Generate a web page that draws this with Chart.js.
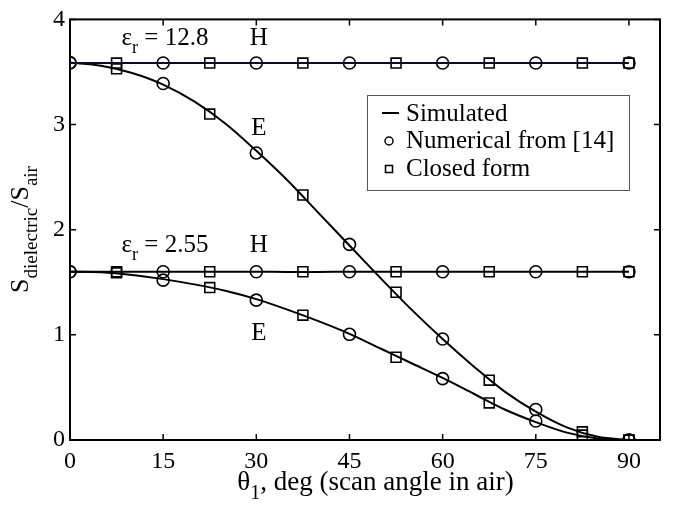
<!DOCTYPE html>
<html>
<head>
<meta charset="utf-8">
<script src="https://cdn.jsdelivr.net/npm/chart.js@4.4.0/dist/chart.umd.min.js"></script>
<style>
  html, body { margin: 0; padding: 0; background: #fff; }
  #wrap { width: 678px; height: 506px; }
</style>
</head>
<body>
<div id="wrap"><canvas id="chart"></canvas></div>
<script>
// Angles (deg)
let simAngles = [0, 5, 10, 15, 20, 25, 30, 35, 40, 45, 50, 55, 60, 65, 70, 75, 80, 85, 90];
let circleAngles = [0, 15, 30, 45, 60, 75, 90];
let squareAngles = [7.5, 22.5, 37.5, 52.5, 67.5, 82.5, 90];

// Simulated curves
let simH128 = [3.585, 3.585, 3.585, 3.585, 3.585, 3.585, 3.585, 3.585, 3.585, 3.585, 3.585, 3.585, 3.585, 3.585, 3.585, 3.585, 3.585, 3.585, 3.585];
let simE128 = [3.59, 3.56, 3.49, 3.38, 3.22, 3.01, 2.75, 2.47, 2.16, 1.85, 1.54, 1.24, 0.96, 0.70, 0.46, 0.27, 0.12, 0.03, 0];
let simH255 = [1.60, 1.60, 1.60, 1.60, 1.60, 1.60, 1.60, 1.598, 1.598, 1.60, 1.60, 1.60, 1.60, 1.60, 1.60, 1.60, 1.60, 1.60, 1.60];
let simE255 = [1.60, 1.595, 1.57, 1.53, 1.48, 1.42, 1.34, 1.24, 1.13, 1.01, 0.87, 0.73, 0.59, 0.44, 0.29, 0.17, 0.07, 0.015, 0];

// Numerical from [14] (circles)
let numH128 = [3.585, 3.585, 3.585, 3.585, 3.585, 3.585, 3.585];
let numE128 = [3.59, 3.39, 2.73, 1.86, 0.96, 0.29, 0];
let numH255 = [1.60, 1.60, 1.60, 1.60, 1.60, 1.60, 1.60];
let numE255 = [1.60, 1.52, 1.33, 1.005, 0.584, 0.181, 0];

// Closed form (squares)
let cfH128 = [3.585, 3.585, 3.585, 3.585, 3.585, 3.585, 3.585];
let cfE128 = [3.53, 3.10, 2.33, 1.405, 0.569, 0.078, 0];
let cfH255 = [1.60, 1.60, 1.60, 1.60, 1.60, 1.60, 1.60];
let cfE255 = [1.59, 1.45, 1.187, 0.787, 0.353, 0.047, 0];

let xTicks = [0, 15, 30, 45, 60, 75, 90];
let yTicks = [0, 1, 2, 3, 4];

const SERIF = '"Liberation Serif", "Times New Roman", serif';

function pts(xs, ys) {
    return xs.map((x, i) => ({ x: x, y: ys[i] }));
}

function simSet(ys, color) {
    return {
        label: "Simulated",
        data: pts(simAngles, ys),
        showLine: true,
        borderColor: color || "#000",
        borderWidth: 2,
        pointRadius: 0,
        cubicInterpolationMode: "monotone",
        fill: false
    };
}

function markSet(label, xs, ys, style, r) {
    return {
        label: label,
        data: pts(xs, ys),
        showLine: false,
        pointStyle: style,
        pointRadius: r,
        pointBorderColor: "#000",
        pointBackgroundColor: "rgba(0,0,0,0)",
        pointBorderWidth: 1.6
    };
}

// draw text with a subscript part, returns total width
function subText(ctx, x, y, main, sub, rest, size, subSize, drop) {
    ctx.font = size + "px " + SERIF;
    ctx.fillText(main, x, y);
    let w = ctx.measureText(main).width;
    ctx.font = subSize + "px " + SERIF;
    ctx.fillText(sub, x + w, y + drop);
    let w2 = ctx.measureText(sub).width;
    ctx.font = size + "px " + SERIF;
    ctx.fillText(rest, x + w + w2, y);
}

function widthOf(ctx, parts) {
    let w = 0;
    parts.forEach(p => {
        ctx.font = p[1] + "px " + SERIF;
        w += ctx.measureText(p[0]).width;
    });
    return w;
}

const decorPlugin = {
    id: "decor",
    afterDatasetsDraw(chart) {
        const ctx = chart.ctx;
        const xs = chart.scales.x, ys = chart.scales.y;
        const a = chart.chartArea;
        ctx.save();
        ctx.fillStyle = "#000";
        ctx.textBaseline = "alphabetic";
        ctx.textAlign = "left";

        // annotations
        subText(ctx, xs.getPixelForValue(8.3), ys.getPixelForValue(3.76), "\u03b5", "r", " = 12.8", 25, 18, 8);
        subText(ctx, xs.getPixelForValue(8.3), ys.getPixelForValue(1.785), "\u03b5", "r", " = 2.55", 25, 18, 8);
        ctx.font = "25px " + SERIF;
        ctx.textAlign = "center";
        ctx.fillText("H", xs.getPixelForValue(30.4), ys.getPixelForValue(3.76));
        ctx.fillText("E", xs.getPixelForValue(30.4), ys.getPixelForValue(2.90));
        ctx.fillText("H", xs.getPixelForValue(30.4), ys.getPixelForValue(1.785));
        ctx.fillText("E", xs.getPixelForValue(30.4), ys.getPixelForValue(0.955));

        // legend box
        const lx = 367, ly = 95, lw = 262, lh = 95;
        ctx.fillStyle = "#fff";
        ctx.fillRect(lx, ly, lw, lh);
        ctx.strokeStyle = "#555";
        ctx.lineWidth = 1;
        ctx.strokeRect(lx + 0.5, ly + 0.5, lw, lh);
        ctx.fillStyle = "#000";
        ctx.strokeStyle = "#000";
        ctx.lineWidth = 2;
        ctx.beginPath();
        ctx.moveTo(382, 113);
        ctx.lineTo(399, 113);
        ctx.stroke();
        ctx.lineWidth = 1.5;
        ctx.beginPath();
        ctx.arc(389, 141, 4, 0, Math.PI * 2);
        ctx.stroke();
        ctx.strokeRect(385.5, 165.5, 7, 7);
        ctx.textAlign = "left";
        ctx.font = "25px " + SERIF;
        ctx.fillText("Simulated", 406, 121);
        ctx.fillText("Numerical from [14]", 406, 148);
        ctx.fillText("Closed form", 406, 176);

        // frame and inward ticks
        ctx.strokeStyle = "#000";
        ctx.lineWidth = 2;
        ctx.strokeRect(a.left, a.top, a.right - a.left, a.bottom - a.top);
        ctx.lineWidth = 1.5;
        ctx.beginPath();
        xTicks.forEach(v => {
            let p = xs.getPixelForValue(v);
            ctx.moveTo(p, a.bottom); ctx.lineTo(p, a.bottom - 6);
            ctx.moveTo(p, a.top); ctx.lineTo(p, a.top + 6);
        });
        yTicks.forEach(v => {
            let p = ys.getPixelForValue(v);
            ctx.moveTo(a.left, p); ctx.lineTo(a.left + 6, p);
            ctx.moveTo(a.right, p); ctx.lineTo(a.right - 6, p);
        });
        ctx.stroke();

        // x axis title
        ctx.textAlign = "left";
        let t1 = "\u03b8", t2 = "1", t3 = ", deg (scan angle in air)";
        let wx = widthOf(ctx, [[t1, 27], [t2, 20], [t3, 27]]);
        subText(ctx, 375.5 - wx / 2, 490, t1, t2, t3, 27, 20, 9);

        // y axis title (rotated)
        ctx.translate(28, 229.5);
        ctx.rotate(-Math.PI / 2);
        let wy = widthOf(ctx, [["S", 26], ["dielectric", 19], ["/S", 26], ["air", 19]]);
        let x0 = -wy / 2;
        ctx.font = "26px " + SERIF;
        ctx.fillText("S", x0, 0);
        x0 += ctx.measureText("S").width;
        ctx.font = "19px " + SERIF;
        ctx.fillText("dielectric", x0, 9);
        x0 += ctx.measureText("dielectric").width;
        ctx.font = "26px " + SERIF;
        ctx.fillText("/S", x0, 0);
        x0 += ctx.measureText("/S").width;
        ctx.font = "19px " + SERIF;
        ctx.fillText("air", x0, 9);
        ctx.restore();
    }
};

let ctx = document.getElementById("chart").getContext("2d");
new Chart(ctx, {
    type: "scatter",
    data: {
        datasets: [
            simSet(simH128, "#0b0b2e"),
            simSet(simE128),
            simSet(simH255),
            simSet(simE255),
            markSet("Numerical from [14]", circleAngles, numH128, "circle", 6),
            markSet("Numerical from [14]", circleAngles, numE128, "circle", 6),
            markSet("Numerical from [14]", circleAngles, numH255, "circle", 6),
            markSet("Numerical from [14]", circleAngles, numE255, "circle", 6),
            markSet("Closed form", squareAngles, cfH128, "rect", 7),
            markSet("Closed form", squareAngles, cfE128, "rect", 7),
            markSet("Closed form", squareAngles, cfH255, "rect", 7),
            markSet("Closed form", squareAngles, cfE255, "rect", 7)
        ]
    },
    options: {
        responsive: true,
        maintainAspectRatio: false,
        animation: false,
        layout: { padding: { top: 12, right: 18, left: 0, bottom: 0 } },
        plugins: {
            legend: { display: false },
            tooltip: { enabled: false }
        },
        scales: {
            x: {
                type: "linear",
                min: 0,
                max: 95,
                grid: { display: false, drawTicks: false },
                border: { display: false },
                ticks: {
                    stepSize: 15,
                    includeBounds: false,
                    color: "#000",
                    padding: 7,
                    font: { family: SERIF, size: 24 }
                },
                afterFit: s => { s.height = 66; }
            },
            y: {
                type: "linear",
                min: 0,
                max: 4,
                grid: { display: false, drawTicks: false },
                border: { display: false },
                ticks: {
                    stepSize: 1,
                    color: "#000",
                    padding: 5,
                    font: { family: SERIF, size: 24 }
                },
                afterFit: s => { s.width = 70; }
            }
        }
    },
    plugins: [decorPlugin]
});
</script>
</body>
</html>
